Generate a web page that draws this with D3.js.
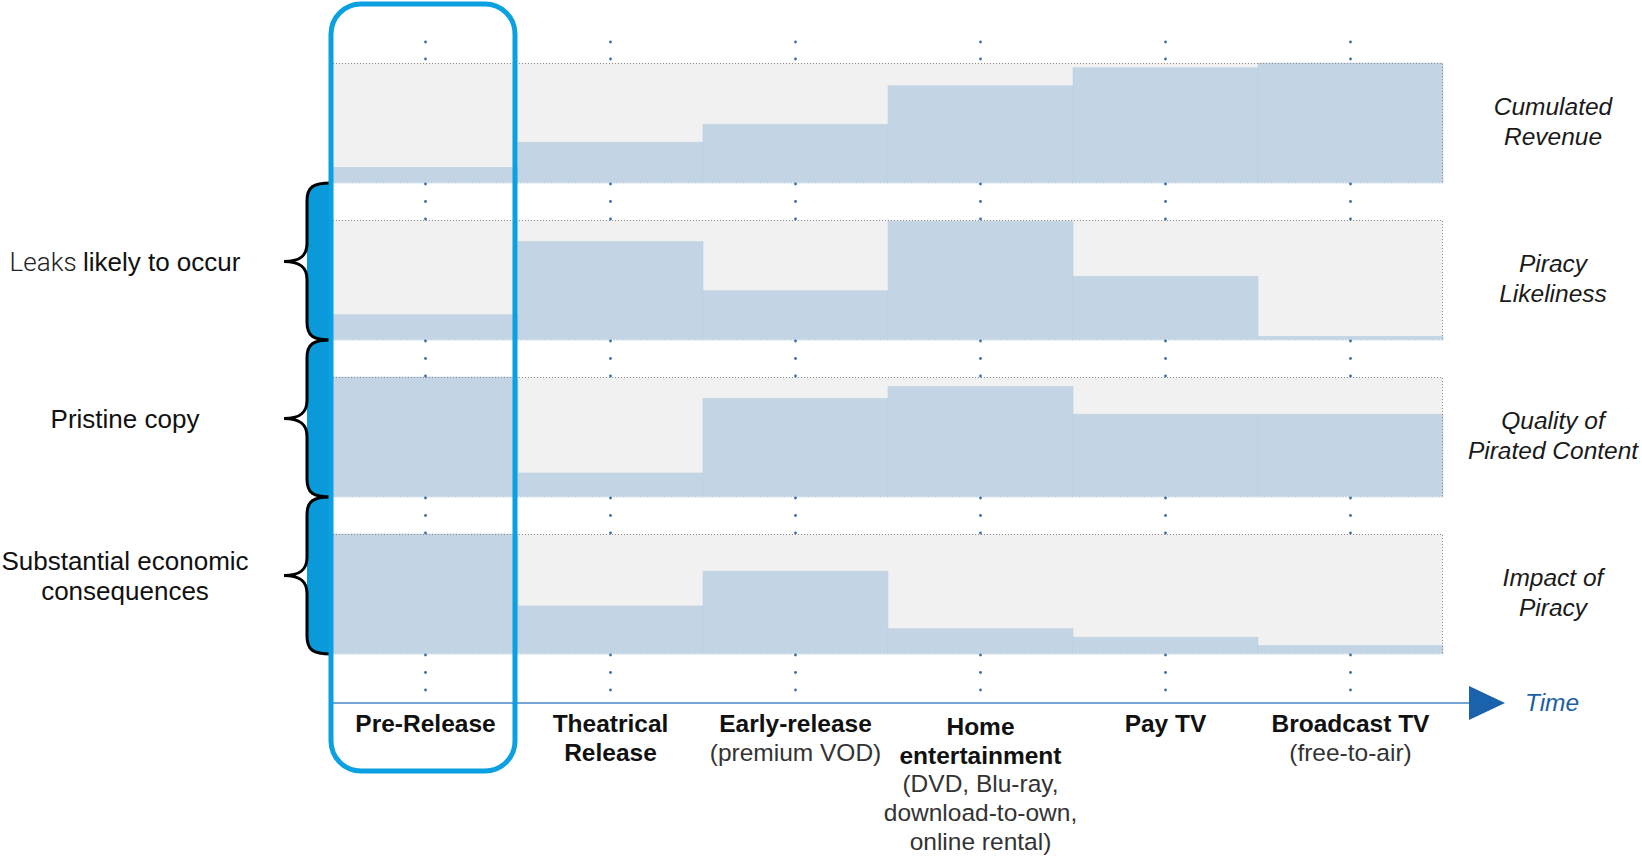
<!DOCTYPE html>
<html><head><meta charset="utf-8">
<script src="https://cdn.jsdelivr.net/npm/d3@7"></script>
<style>html,body{margin:0;padding:0;background:#fff;overflow:hidden}</style>
</head><body><svg id="c" width="1642" height="859"></svg>
<script>
// ---------- data ----------
const categories = ["Pre-Release","Theatrical Release","Early-release","Home entertainment","Pay TV","Broadcast TV"];
const categoryTitles = [["Pre-Release"],["Theatrical","Release"],["Early-release"],["Home","entertainment"],["Pay TV"],["Broadcast TV"]];
const categoryNotes = [[],[],["(premium VOD)"],["(DVD, Blu-ray,","download-to-own,","online rental)"],[],["(free-to-air)"]];
const metrics = ["Cumulated Revenue","Piracy Likeliness","Quality of Pirated Content","Impact of Piracy"];
const metricLines = [["Cumulated","Revenue"],["Piracy","Likeliness"],["Quality of","Pirated Content"],["Impact of","Piracy"]];
const cumulatedRevenue = [0.13,0.34,0.49,0.81,0.96,1.00];
const piracyLikeliness = [0.21,0.82,0.41,0.99,0.53,0.03];
const qualityOfContent = [1.00,0.20,0.82,0.92,0.69,0.69];
const impactOfPiracy   = [1.00,0.40,0.69,0.21,0.14,0.07];
const braceRows = [1,2,3];
const braceLight = ["Leaks ","",""];
const braceText = [["likely to occur"],["Pristine copy"],["Substantial economic","consequences"]];
const axisLabel = "Time";

const seriesValues = [cumulatedRevenue,piracyLikeliness,qualityOfContent,impactOfPiracy];

// ---------- layout ----------
const svg = d3.select("#c");
const FONT = "'Liberation Sans', Arial, Helvetica, sans-serif";
const x = d3.scaleBand().domain(categories).range([333,1443]).padding(0);
const row = d3.scaleBand().domain(metrics).range([63,654]).paddingInner(37/157).paddingOuter(0);
const bh = row.bandwidth();
const v = d3.scaleLinear().domain([0,1]).range([bh,0]);
const BAR = "#c3d5e4", BG = "#f1f1f1";
const x0 = x.range()[0], x1 = x.range()[1];

// panels
metrics.forEach((m,i)=>{
  const g = svg.append("g").attr("transform",`translate(0,${row(m)})`);
  g.append("rect").attr("x",x0).attr("y",0).attr("width",x1-x0).attr("height",bh).attr("fill",BG);
  g.selectAll("rect.bar").data(seriesValues[i]).join("rect").attr("class","bar")
    .attr("x",(d,j)=>x(categories[j])).attr("width",x.bandwidth())
    .attr("y",d=>v(d)).attr("height",d=>bh-v(d)).attr("fill",BAR)
    .attr("stroke","#bdd0e0").attr("stroke-width",0.6);
  g.append("path").attr("d",`M${x0},0.5H${x1-0.5}V${bh}`).attr("fill","none")
    .attr("stroke","#8f8f8f").attr("stroke-width",1).attr("stroke-dasharray","1,2");
  g.append("path").attr("d",`M${x0},${bh-0.5}H${x1}`).attr("fill","none")
    .attr("stroke","#e6eef5").attr("stroke-width",1).attr("stroke-dasharray","1,2");
  // right labels
  const cy = row(m)+bh/2;
  svg.append("g").selectAll("text").data(metricLines[i]).join("text")
    .attr("x",1553).attr("y",(d,k)=>cy-8+k*30).attr("text-anchor","middle")
    .attr("font-family",FONT).attr("font-style","italic").attr("font-size",24.5)
    .attr("fill","#1a1a1a").text(d=>d);
});

// dotted guide marks at column centres
const dotYs = [];
const rTop = row(metrics[0]);
dotYs.push(rTop-21, rTop-4);
metrics.forEach((m,i)=>{
  const b = row(m)+bh;
  dotYs.push(b+1, b+18.5, b+36);
});
categories.forEach(c=>{
  const cx = x(c)+x.bandwidth()/2;
  svg.append("g").selectAll("circle").data(dotYs).join("circle")
    .attr("cx",cx).attr("cy",d=>d).attr("r",1.4).attr("fill","#3b6ea6");
});

// time axis
const axisY = 703;
svg.append("line").attr("x1",x0).attr("x2",1472).attr("y1",axisY).attr("y2",axisY)
  .attr("stroke","#4a86c5").attr("stroke-width",1.6);
svg.append("path").attr("d",`M1469,${axisY-17}L1505,${axisY}L1469,${axisY+17}Z`).attr("fill","#1a62ab");
svg.append("text").attr("x",1552).attr("y",axisY+8).attr("text-anchor","middle")
  .attr("font-family",FONT).attr("font-style","italic").attr("font-size",24.5)
  .attr("fill","#1a5fa8").text(axisLabel);

// category labels
categories.forEach((c,i)=>{
  const cx = x(c)+x.bandwidth()/2;
  const n = categoryTitles[i].length + categoryNotes[i].length;
  const base = n>2 ? 735 : 732;
  const lines = categoryTitles[i].map(t=>({t,b:true})).concat(categoryNotes[i].map(t=>({t,b:false})));
  svg.append("g").selectAll("text").data(lines).join("text")
    .attr("x",cx).attr("y",(d,k)=>base+k*28.7).attr("text-anchor","middle")
    .attr("font-family",FONT).attr("font-size",24.5)
    .attr("font-weight",d=>d.b?"bold":"normal")
    .attr("fill",d=>d.b?"#111":"#333").text(d=>d.t);
});

// braces
const BLUE = "#0a9ad9";
braceRows.forEach((ri,i)=>{
  const y0 = row(metrics[ri-1])+bh, y1 = row(metrics[ri])+bh, ym = (y0+y1)/2;
  const xr = 331, xv = 307, xt = 284;
  const fill = `M${xr},${y0} C${xv+6},${y0} ${xv},${y0+4} ${xv},${y0+18} L${xv},${y1-18} C${xv},${y1-4} ${xv+6},${y1} ${xr},${y1} L${x0},${y1} L${x0},${y0} Z`;
  svg.append("path").attr("d",fill).attr("fill",BLUE);
  const st = `M${xr},${y0} C${xv+6},${y0} ${xv},${y0+4} ${xv},${y0+18} L${xv},${ym-18} C${xv},${ym-5} ${xv-8},${ym} ${xt},${ym} C${xv-8},${ym} ${xv},${ym+5} ${xv},${ym+18} L${xv},${y1-18} C${xv},${y1-4} ${xv+6},${y1} ${xr},${y1}`;
  svg.append("path").attr("d",st).attr("fill","none").attr("stroke","#000").attr("stroke-width",3);
  const lines = braceText[i];
  const startY = lines.length>1 ? ym-6 : ym+9;
  lines.forEach((t,k)=>{
    const tx = svg.append("text").attr("x",125).attr("y",startY+k*30).attr("text-anchor","middle")
      .attr("font-family",FONT).attr("font-size",26).attr("fill","#111");
    if(k===0 && braceLight[i]) tx.append("tspan").attr("font-family","Roboto, 'Liberation Sans', sans-serif").attr("font-weight",300).attr("fill","#222").text(braceLight[i]);
    tx.append("tspan").text(t);
  });
});

// highlight frame round the first column
svg.append("rect").attr("x",x(categories[0])-2).attr("y",4)
  .attr("width",x.bandwidth()-1).attr("height",767).attr("rx",30).attr("ry",30)
  .attr("fill","none").attr("stroke","#0aa0e2").attr("stroke-width",5);
</script></body></html>
